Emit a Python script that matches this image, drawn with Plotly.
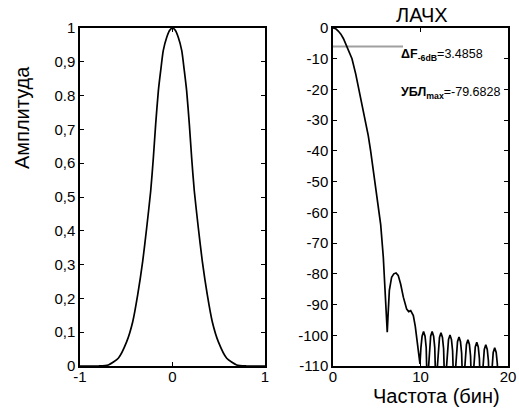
import plotly.graph_objects as go

# ---- Left panel: window (time domain) ----
win_x = [-1.0, -0.8, -0.694, -0.586, -0.495, -0.43, -0.376, -0.322, -0.279, -0.236, -0.207, -0.182,
         -0.153, -0.128, -0.1, -0.063, -0.03, 0.0,
         0.03, 0.063, 0.1, 0.128, 0.153, 0.182, 0.207, 0.236, 0.279, 0.322, 0.376, 0.43, 0.495,
         0.586, 0.694, 0.8, 1.0]
win_y = [0.0, 0.0, 0.003, 0.023, 0.072, 0.131, 0.211, 0.31, 0.409, 0.517, 0.616, 0.715,
         0.814, 0.873, 0.933, 0.972, 0.993, 1.0,
         0.993, 0.972, 0.933, 0.873, 0.814, 0.715, 0.616, 0.517, 0.409, 0.31, 0.211, 0.131, 0.072,
         0.023, 0.003, 0.0, 0.0]
left_yticks = [0, 0.1, 0.2, 0.3, 0.4, 0.5, 0.6, 0.7, 0.8, 0.9, 1]
left_ytick_labels = ["0", "0,1", "0,2", "0,3", "0,4", "0,5", "0,6", "0,7", "0.8", "0,9", "1"]
left_xticks = [-1, 0, 1]

# ---- Right panel: log amplitude-frequency response (dB) ----
freq_bins = [0, 0.3, 0.6, 0.9, 1.2, 1.52, 1.8, 2.17, 2.6, 2.97, 3.35, 3.73, 4.03, 4.3, 4.55, 4.76,
             4.95, 5.14, 5.45, 5.75, 5.94, 6.1, 6.2, 6.3, 6.44, 6.7, 6.95, 7.2, 7.45, 7.73, 8.04,
             8.42, 8.65, 8.88, 9.18, 9.4, 9.56, 9.8, 9.94,
             10.05, 10.18, 10.35, 10.52, 10.65, 10.75, 10.84,
             10.93, 11.03, 11.16, 11.33, 11.5, 11.63, 11.73, 11.83,
             11.93, 12.04, 12.17, 12.34, 12.51, 12.64, 12.75, 12.85,
             12.96, 13.07, 13.2, 13.37, 13.54, 13.67, 13.78, 13.88,
             13.99, 14.1, 14.23, 14.4, 14.57, 14.7, 14.81, 14.91,
             15.01, 15.12, 15.25, 15.42, 15.59, 15.72, 15.83, 15.92,
             16.02, 16.13, 16.26, 16.43, 16.6, 16.73, 16.84, 16.94,
             17.05, 17.16, 17.29, 17.46, 17.63, 17.76, 17.87, 17.97,
             18.07, 18.18, 18.31, 18.48, 18.65, 18.78, 18.89, 18.99]
level_db = [0, -0.2, -1.0, -2.0, -3.5, -5.6, -7.5, -10, -15, -20, -25, -30, -35, -40, -45, -50,
            -54, -57, -64, -74.6, -85.4, -94, -99, -93, -85.4, -81.1, -80, -79.7, -80.5, -83.3, -87.6,
            -91.5, -92.3, -92, -93.6, -97, -100.6, -106, -109.3,
            -104, -100.3, -98.8, -100.3, -104, -110, -125,
            -110, -104, -100.3, -98.8, -100.3, -104, -110, -125,
            -110.2, -104.4, -100.7, -99.2, -100.7, -104.4, -110.2, -125,
            -110.9, -105.1, -101.4, -99.9, -101.4, -105.1, -110.9, -125,
            -111.6, -105.8, -102.1, -100.6, -102.1, -105.8, -111.6, -125,
            -112.5, -106.7, -103.0, -101.5, -103.0, -106.7, -112.5, -125,
            -113.3, -107.5, -103.8, -102.3, -103.8, -107.5, -113.3, -125,
            -114.1, -108.3, -104.6, -103.1, -104.6, -108.3, -114.1, -125,
            -115.1, -109.3, -105.6, -104.1, -105.6, -109.3, -115.1, -125]
marker_x = [0, 8.0]
marker_db = [-6, -6]
right_yticks = [0, -10, -20, -30, -40, -50, -60, -70, -80, -90, -100, -110]
right_xticks = [0, 10, 20]
delta_f = "3.4858"
sidelobe_max = "-79.6828"

W, H = 519, 417
FONT = "Liberation Sans, Arial, sans-serif"

fig = go.Figure()
fig.add_trace(go.Scatter(x=win_x, y=win_y, mode="lines", line=dict(color="black", width=1.7, shape="spline", smoothing=0.6),
                         xaxis="x", yaxis="y", showlegend=False, hoverinfo="skip"))
fig.add_trace(go.Scatter(x=marker_x, y=marker_db, mode="lines", line=dict(color="#a0a0a0", width=2),
                         xaxis="x2", yaxis="y2", showlegend=False, hoverinfo="skip"))
fig.add_trace(go.Scatter(x=freq_bins, y=level_db, mode="lines", line=dict(color="black", width=1.7),
                         xaxis="x2", yaxis="y2", showlegend=False, hoverinfo="skip"))

def px_x(p):
    return p / W

def px_y(p):
    return 1 - p / H

axis_common = dict(showline=True, linecolor="black", linewidth=1.5, mirror="ticks", ticks="inside",
                   ticklen=4, tickwidth=1, tickcolor="black", showgrid=False, zeroline=False,
                   automargin=False, tickfont=dict(family=FONT, size=15, color="black"))

fig.update_layout(
    template="none",
    width=W, height=H, margin=dict(l=0, r=0, t=0, b=0, pad=0),
    paper_bgcolor="white", plot_bgcolor="white",
    xaxis=dict(domain=[px_x(80), px_x(265)], range=[-1, 1], tickvals=left_xticks,
               ticktext=["-1", "0", "1"], anchor="y", **axis_common),
    yaxis=dict(domain=[px_y(366), px_y(28)], range=[0, 1], tickvals=left_yticks,
               ticktext=left_ytick_labels, anchor="x", **axis_common),
    xaxis2=dict(domain=[px_x(333), px_x(508)], range=[0, 20], tickvals=right_xticks,
                ticktext=[str(v) for v in right_xticks], anchor="y2", **axis_common),
    yaxis2=dict(domain=[px_y(366), px_y(28)], range=[-110, 0], tickvals=right_yticks,
                ticktext=[str(v) for v in right_yticks], anchor="x2", **axis_common),
    annotations=[
        dict(text="Амплитуда", x=px_x(22), y=px_y(118), xref="paper", yref="paper", textangle=-90,
             xanchor="center", yanchor="middle",
             showarrow=False, font=dict(family=FONT, size=20, color="black")),
        dict(text="ЛАЧХ", x=px_x(422), y=px_y(15), xref="paper", yref="paper",
             xanchor="center", yanchor="middle",
             showarrow=False, font=dict(family=FONT, size=20, color="black")),
        dict(text="Частота (бин)", x=px_x(436), y=px_y(396), xref="paper", yref="paper",
             xanchor="center", yanchor="middle",
             showarrow=False, font=dict(family=FONT, size=20, color="black")),
        dict(text="<b>ΔF<sub>-6dB</sub></b>=" + delta_f, x=px_x(399), y=px_y(55), xref="paper", yref="paper",
             xanchor="left", yanchor="middle", showarrow=False, font=dict(family=FONT, size=12.5, color="black")),
        dict(text="<b>УБЛ<sub>max</sub></b>=" + sidelobe_max, x=px_x(399), y=px_y(93), xref="paper", yref="paper",
             xanchor="left", yanchor="middle", showarrow=False, font=dict(family=FONT, size=12.5, color="black")),
    ],
)

try:
    fig.update_xaxes(ticklabelstandoff=-4)
except ValueError:
    pass

fig.write_html("out.html", config={"displayModeBar": False},
               post_script="document.body.style.margin='0';")
